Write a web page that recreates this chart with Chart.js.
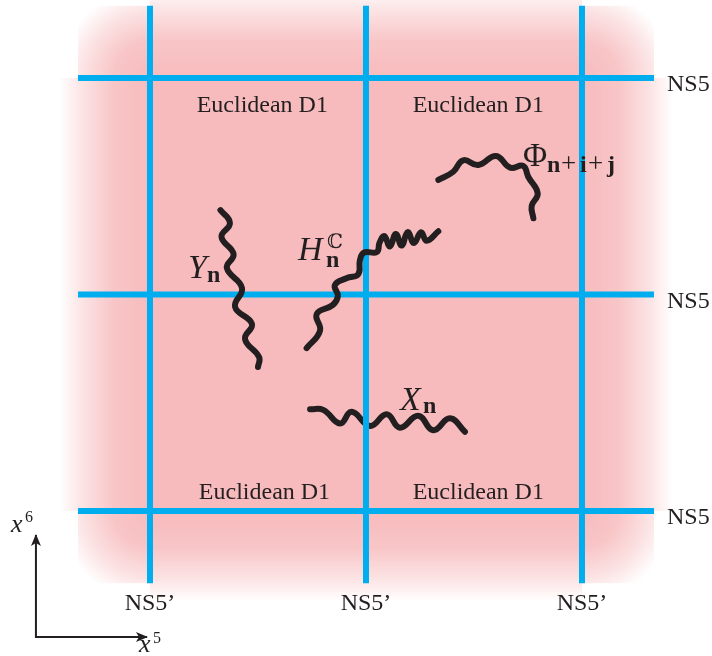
<!DOCTYPE html>
<html lang="en">
<head>
<meta charset="UTF-8">
<title>Euclidean D1 grid</title>
<script src="https://cdn.jsdelivr.net/npm/chart.js"></script>
<style>
  html, body { margin: 0; padding: 0; background: #fff; }
  canvas { display: block; }
</style>
</head>
<body>
<canvas id="grid" width="712" height="656"></canvas>
<script>
// brane positions, in units of one cell (x5 across, x6 up)
const ns5Positions = [0, 1, 2];      // NS5 branes: horizontal lines at these x6
const ns5pPositions = [0, 1, 2];     // NS5' branes: vertical lines at these x5
const braneEnds = [-1 / 3, 7 / 3];   // every brane runs between these

// strings as (x5, x6) pairs
const yString = [[0.326, 1.390], [0.370, 1.330], [0.331, 1.266], [0.387, 1.187], [0.356, 1.122],
  [0.426, 1.030], [0.394, 0.942], [0.472, 0.864], [0.440, 0.794], [0.505, 0.711], [0.500, 0.665]];
const hString = [[0.725, 0.752], [0.787, 0.832], [0.772, 0.910], [0.847, 0.952], [0.870, 0.993],
  [0.856, 1.044], [0.912, 1.076], [0.964, 1.094], [0.972, 1.159], [0.991, 1.194], [1.050, 1.196],
  [1.063, 1.240], [1.085, 1.270], [1.111, 1.222], [1.138, 1.280], [1.165, 1.226], [1.193, 1.288],
  [1.222, 1.238], [1.255, 1.288], [1.281, 1.248], [1.335, 1.292]];
const phiString = [[1.335, 1.529], [1.404, 1.567], [1.450, 1.620], [1.520, 1.598], [1.602, 1.640],
  [1.667, 1.586], [1.728, 1.594], [1.751, 1.544], [1.795, 1.467], [1.767, 1.409], [1.775, 1.352]];
const xString = [[0.741, 0.470], [0.802, 0.467], [0.880, 0.404], [0.934, 0.458], [1.019, 0.393],
  [1.096, 0.447], [1.157, 0.385], [1.242, 0.440], [1.311, 0.373], [1.389, 0.428], [1.458, 0.366]];

// the little x5/x6 axes in the corner
const axisCorner = [[-0.528, -0.111], [-0.528, -0.582], [-0.014, -0.582]];

// text
const cellLabel = 'Euclidean D1';
const cellLabelSpots = [[0.52, 1.87], [1.52, 1.87], [0.53, 0.085], [1.52, 0.085]];
const ns5Label = 'NS5';
const ns5pLabel = 'NS5\u2019';

const PINK = [247, 187, 189];
const BLUE = '#00AEEF';
const INK = '#231F20';
const SERIF = "'Liberation Serif', 'DejaVu Serif', serif";

const pts = arr => arr.map(p => ({ x: p[0], y: p[1] }));

// lower order is drawn on top; X_n runs under the brane it crosses
const datasets = [];
ns5Positions.forEach(v => datasets.push({
  data: [{ x: braneEnds[0], y: v }, { x: braneEnds[1], y: v }],
  borderColor: BLUE, borderWidth: 6, order: 2
}));
ns5pPositions.forEach(u => datasets.push({
  data: [{ x: u, y: braneEnds[0] }, { x: u, y: braneEnds[1] }],
  borderColor: BLUE, borderWidth: 6, order: 2
}));
[[yString, 1], [hString, 1], [phiString, 1], [xString, 3]].forEach(([s, o]) => datasets.push({
  data: pts(s), borderColor: INK, borderWidth: 6, tension: 0.45,
  borderCapStyle: 'round', borderJoinStyle: 'round', order: o
}));
datasets.push({ data: pts(axisCorner), borderColor: INK, borderWidth: 2, order: 1 });

function pinkStops(g) {
  const c = a => `rgba(${PINK[0]},${PINK[1]},${PINK[2]},${a})`;
  g.addColorStop(0, c(1));
  g.addColorStop(0.4, c(0.85));
  g.addColorStop(0.75, c(0.4));
  g.addColorStop(1, c(0));
  return g;
}

// pink slab: solid inside the grid, fading out past the outer branes
const slabPlugin = {
  id: 'slab',
  beforeDatasetsDraw(chart) {
    const ctx = chart.ctx, xs = chart.scales.x, ys = chart.scales.y;
    const X = v => xs.getPixelForValue(v), Y = v => ys.getPixelForValue(v);
    const lo = ns5pPositions[0], hi = ns5pPositions[2];
    const fade = 0.42;
    ctx.save();
    ctx.fillStyle = `rgb(${PINK.join(',')})`;
    ctx.fillRect(X(lo), Y(hi), X(hi) - X(lo), Y(lo) - Y(hi));
    // side bands
    const band = (x0, y0, x1, y1, gx0, gy0, gx1, gy1) => {
      ctx.fillStyle = pinkStops(ctx.createLinearGradient(gx0, gy0, gx1, gy1));
      ctx.fillRect(Math.min(x0, x1), Math.min(y0, y1), Math.abs(x1 - x0), Math.abs(y1 - y0));
    };
    band(X(lo), Y(hi), X(lo - fade), Y(lo), X(lo), 0, X(lo - fade), 0);
    band(X(hi), Y(hi), X(hi + fade), Y(lo), X(hi), 0, X(hi + fade), 0);
    band(X(lo), Y(hi), X(hi), Y(hi + fade), 0, Y(hi), 0, Y(hi + fade));
    band(X(lo), Y(lo), X(hi), Y(lo - fade), 0, Y(lo), 0, Y(lo - fade));
    // corners, cut off square at the brane ends
    const r = X(fade) - X(0);
    [[lo, lo, braneEnds[0], braneEnds[0]], [hi, lo, braneEnds[1], braneEnds[0]],
     [lo, hi, braneEnds[0], braneEnds[1]], [hi, hi, braneEnds[1], braneEnds[1]]].forEach(([cx, cy, ex, ey]) => {
      const px = X(cx), py = Y(cy);
      ctx.fillStyle = pinkStops(ctx.createRadialGradient(px, py, 0, px, py, r));
      ctx.fillRect(Math.min(px, X(ex)), Math.min(py, Y(ey)), Math.abs(X(ex) - px), Math.abs(Y(ey) - py));
    });
    ctx.restore();
  }
};

function drawParts(ctx, x, y, parts) {
  parts.forEach(p => {
    ctx.font = p.font;
    ctx.fillText(p.text, x + p.dx, y + p.dy);
  });
}

const labelPlugin = {
  id: 'labels',
  afterDatasetsDraw(chart) {
    const ctx = chart.ctx, xs = chart.scales.x, ys = chart.scales.y;
    const X = v => xs.getPixelForValue(v), Y = v => ys.getPixelForValue(v);
    ctx.save();
    ctx.fillStyle = INK;
    ctx.font = `24px ${SERIF}`;
    ctx.textBaseline = 'middle';
    ctx.textAlign = 'center';
    cellLabelSpots.forEach(([u, v]) => ctx.fillText(cellLabel, X(u), Y(v)));
    ns5pPositions.forEach(u => ctx.fillText(ns5pLabel, X(u), Y(braneEnds[0]) + 21));
    ctx.textAlign = 'left';
    ns5Positions.forEach(v => ctx.fillText(ns5Label, X(braneEnds[1]) + 13, Y(v) + 7));

    ctx.textBaseline = 'alphabetic';
    const it = `italic 34px ${SERIF}`, up = `33px ${SERIF}`;
    const bs = `bold 24px ${SERIF}`, rs = `27px ${SERIF}`;
    drawParts(ctx, X(0.176), Y(1.076), [
      { text: 'Y', font: it, dx: 0, dy: 0 }, { text: 'n', font: bs, dx: 19, dy: 4 }]);
    drawParts(ctx, X(0.685), Y(1.159), [
      { text: 'H', font: it, dx: 0, dy: 0 }, { text: 'n', font: bs, dx: 28, dy: 7 },
      { text: '\u2102', font: `20px 'DejaVu Serif', serif`, dx: 29, dy: -12 }]);
    drawParts(ctx, X(1.727), Y(1.594), [
      { text: '\u03A6', font: up, dx: 0, dy: 0 }, { text: 'n', font: bs, dx: 24, dy: 6 },
      { text: '+', font: rs, dx: 38, dy: 6 }, { text: 'i', font: bs, dx: 57, dy: 6 },
      { text: '+', font: rs, dx: 65, dy: 6 }, { text: 'j', font: bs, dx: 84, dy: 6 }]);
    drawParts(ctx, X(1.157), Y(0.467), [
      { text: 'X', font: it, dx: 0, dy: 0 }, { text: 'n', font: bs, dx: 23, dy: 3 }]);

    // corner axes: arrow heads and names
    const ox = X(axisCorner[1][0]), oy = Y(axisCorner[1][1]);
    const tx = X(axisCorner[2][0]), ty = Y(axisCorner[0][1]);
    ctx.beginPath();
    ctx.moveTo(ox, ty - 1); ctx.lineTo(ox - 5, ty + 11); ctx.lineTo(ox, ty + 8); ctx.lineTo(ox + 5, ty + 11);
    ctx.closePath(); ctx.fill();
    ctx.beginPath();
    ctx.moveTo(tx + 1, oy); ctx.lineTo(tx - 11, oy - 5); ctx.lineTo(tx - 8, oy); ctx.lineTo(tx - 11, oy + 5);
    ctx.closePath(); ctx.fill();
    drawParts(ctx, ox - 25, ty - 3, [
      { text: 'x', font: `italic 26px ${SERIF}`, dx: 0, dy: 0 }, { text: '6', font: `16px ${SERIF}`, dx: 14, dy: -10 }]);
    drawParts(ctx, tx - 8, oy + 15, [
      { text: 'x', font: `italic 26px ${SERIF}`, dx: 0, dy: 0 }, { text: '5', font: `16px ${SERIF}`, dx: 14, dy: -9 }]);
    ctx.restore();
  }
};

new Chart(document.getElementById('grid'), {
  type: 'scatter',
  data: { datasets: datasets.map(d => Object.assign({ showLine: true, pointRadius: 0, clip: false }, d)) },
  options: {
    responsive: false,
    animation: false,
    layout: { padding: 0 },
    plugins: { legend: { display: false }, tooltip: { enabled: false } },
    scales: {
      x: { type: 'linear', display: false, min: -0.6944, max: 2.6019 },
      y: { type: 'linear', display: false, min: -0.6697, max: 2.3603 }
    }
  },
  plugins: [slabPlugin, labelPlugin]
});
</script>
</body>
</html>
